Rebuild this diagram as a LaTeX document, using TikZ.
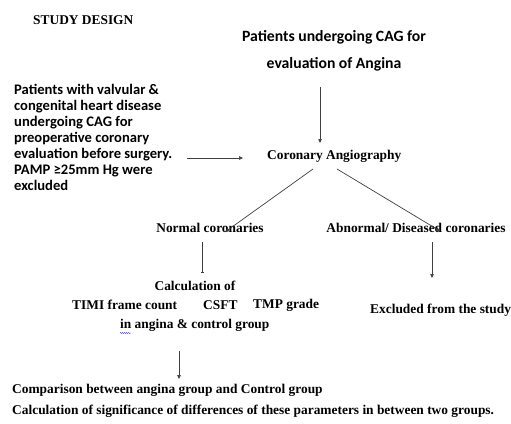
\documentclass[tikz,border=0pt]{standalone}
\usepackage{fontspec}
\setmainfont{Liberation Serif}
\newfontfamily\calfont{Carlito}
\usetikzlibrary{arrows.meta,decorations.pathmorphing}
\begin{document}
\begin{tikzpicture}[x=1pt,y=-1pt,
  serif/.style={font=\bfseries\fontsize{13.4}{15}\selectfont,inner sep=0pt},
  sans/.style={font=\calfont\bfseries\fontsize{14.6}{16}\selectfont,inner sep=0pt},
  conn/.style={line width=0.7pt,draw=black!75,-{Triangle[length=4pt,width=3.5pt]}},
  plain/.style={line width=0.7pt,draw=black!75}]
\useasboundingbox (0,0) rectangle (511,423);
\fill[white] (0,0) rectangle (511,423);

\node[serif,anchor=west] (title) at (33,20) {STUDY DESIGN};
\node[sans,font=\calfont\bfseries\fontsize{15.7}{18}\selectfont] (p1) at (334,37) {Patients undergoing CAG for};
\node[sans,font=\calfont\bfseries\fontsize{15.7}{18}\selectfont] (p2) at (334,64) {evaluation of Angina};
\node[sans,anchor=north west,align=left] (left) at (14,84) {Patients with valvular \&\\congenital heart disease\\undergoing CAG for\\preoperative coronary\\evaluation before surgery.\\PAMP ≥25mm Hg were\\excluded};
\node[serif,anchor=west] (ca) at (267,156) {Coronary Angiography};
\node[serif] (nc) at (210,228) {Normal coronaries};
\node[serif] (ab) at (416,228) {Abnormal/ Diseased coronaries};
\node[serif] (calc) at (195,286) {Calculation of};
\node[serif,anchor=west] (timi) at (72,305) {TIMI frame count};
\node[serif,anchor=west] (csft) at (203,305) {CSFT};
\node[serif,anchor=west] (tmp) at (253,305) {TMP grade};
\node[serif,anchor=west] (grp) at (120,325) {in angina \& control group};
\node[serif,anchor=west] (exc) at (370,310) {Excluded from the study};
\node[serif,anchor=west] (cmp) at (12,390) {Comparison between angina group and Control group};
\node[serif,anchor=west] (sig) at (12,411) {Calculation of significance of differences of these parameters in between two groups.};

\coordinate (a1) at (320,87);
\coordinate (a2) at (320,143);
\draw[conn] (a1) -- (a2);
\coordinate (h1) at (187,158);
\coordinate (h2) at (243,158);
\draw[conn] (h1) -- (h2);
\coordinate (d1) at (313,169);
\coordinate (d2) at (225,232);
\draw[conn] (d1) -- (d2);
\coordinate (e1) at (337,169);
\coordinate (e2) at (440,231);
\draw[conn] (e1) -- (e2);
\coordinate (n1) at (202,242);
\coordinate (n2) at (202,273);
\draw[plain,-{Bar[width=3pt]}] (n1) -- (n2);
\coordinate (b1) at (432,242);
\coordinate (b2) at (432,278);
\draw[conn] (b1) -- (b2);
\coordinate (c1) at (179,351);
\coordinate (c2) at (179,379);
\draw[conn] (c1) -- (c2);
\draw[blue!70,line width=0.4pt,decorate,decoration={snake,amplitude=0.6pt,segment length=2pt}] (120,333) -- (131,333);
\end{tikzpicture}
\end{document}
